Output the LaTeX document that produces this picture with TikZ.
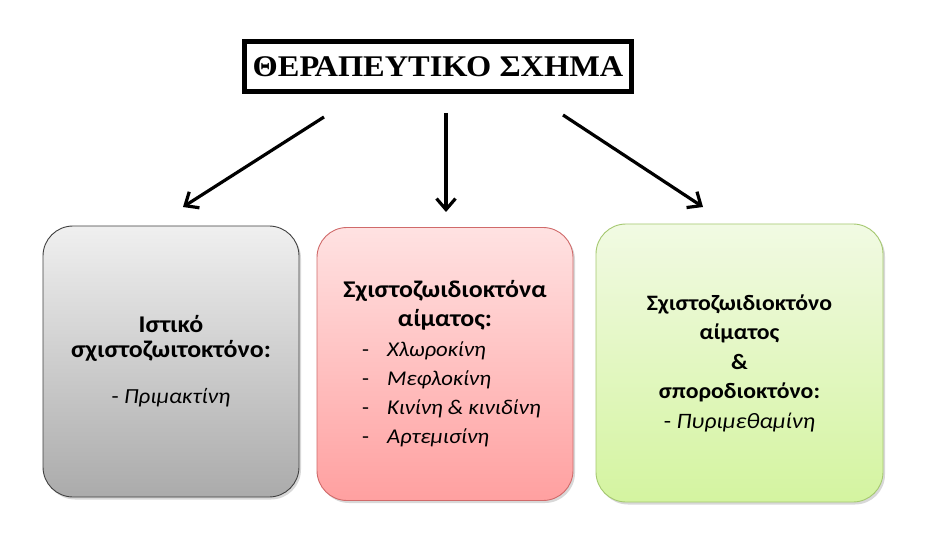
\documentclass[tikz,border=0pt]{standalone}
\usepackage{fontspec}
\setmainfont{Liberation Serif}
\newfontfamily\titlefont[FakeStretch=1.08]{Liberation Serif}
\newfontfamily\boxfont[FakeStretch=1.08]{Carlito}
\usetikzlibrary{arrows.meta, positioning, shadows}
\newcommand{\Drug}[1]{\textit{#1}}
\newcommand{\DrugItem}[1]{\fontsize{21}{29}\selectfont\mdseries
  \hspace*{19pt}\makebox[185pt][l]{\makebox[25pt][l]{-}\Drug{#1}}}
\definecolor{greyedge}{HTML}{404040}
\definecolor{pinkedge}{HTML}{D06A6A}
\definecolor{pinktop}{HTML}{FFE2E2}
\definecolor{pinkbottom}{HTML}{FFA0A0}
\definecolor{greenedge}{HTML}{A5C870}
\definecolor{greentop}{HTML}{F1FAE3}
\definecolor{greenbottom}{HTML}{D4F4A0}
\tikzset{
    schemebox/.style={draw, rounded corners=30pt, line width=0.9pt, align=center,
      inner sep=0pt,
      drop shadow={opacity=0.3, shadow xshift=2pt, shadow yshift=-2.5pt}},
    greybox/.style={schemebox, draw=greyedge, top color=black!6, bottom color=black!33},
    pinkbox/.style={schemebox, draw=pinkedge, top color=pinktop, bottom color=pinkbottom},
    greenbox/.style={schemebox, draw=greenedge, top color=greentop, bottom color=greenbottom},
    titlebox/.style={draw, line width=5pt, inner sep=0pt, font=\titlefont\fontsize{30}{30}\selectfont\bfseries},
    branch/.style={-{Straight Barb[length=11pt, width=19pt]}, line width=3.2pt},
}

\begin{document}
\begin{tikzpicture}[x=1pt, y=-1pt]
    \useasboundingbox[fill=white] (0,0) rectangle (942,545);

    \node[titlebox, minimum width=387pt, minimum height=50pt] (title) at (438,67) {ΘΕΡΑΠΕΥΤΙΚΟ ΣΧΗΜΑ};

    \node[greybox, minimum width=256pt, minimum height=271pt,
          font=\boxfont\fontsize{24}{25}\selectfont\bfseries] (ist) at (171,361.5)
      {Ιστικό\\ σχιστοζωιτοκτόνο:\\[21pt]
       \fontsize{21.5}{25}\selectfont\mdseries - \Drug{Πριμακτίνη}};
    \node[pinkbox, minimum width=256pt, minimum height=273pt,
          font=\boxfont\fontsize{24}{29}\selectfont\bfseries] (aim) at (445,364)
      {Σχιστοζωιδιοκτόνα\\ αίματος:\\[1pt]
       \DrugItem{Χλωροκίνη}\\
       \DrugItem{Μεφλοκίνη}\\
       \DrugItem{Κινίνη \& κινιδίνη}\\
       \DrugItem{Αρτεμισίνη}};
    \node[greenbox, minimum width=287pt, minimum height=278pt,
          font=\boxfont\fontsize{22}{29.5}\selectfont\bfseries] (spor) at (739.5,363)
      {Σχιστοζωιδιοκτόνο\\ αίματος\\ \&\\ σποροδιοκτόνο:\\
       \mdseries - \Drug{Πυριμεθαμίνη}};

    \coordinate (ist in) at (183,207);
    \coordinate (ist out) at (324,117);
    \coordinate (aim in) at (446,212);
    \coordinate (aim out) at (446,113);
    \coordinate (spor in) at (703,207);
    \coordinate (spor out) at (563,115);

    \draw[branch] (ist out) -- (ist in);
    \draw[branch] (aim out) -- (aim in);
    \draw[branch] (spor out) -- (spor in);
\end{tikzpicture}
\end{document}
